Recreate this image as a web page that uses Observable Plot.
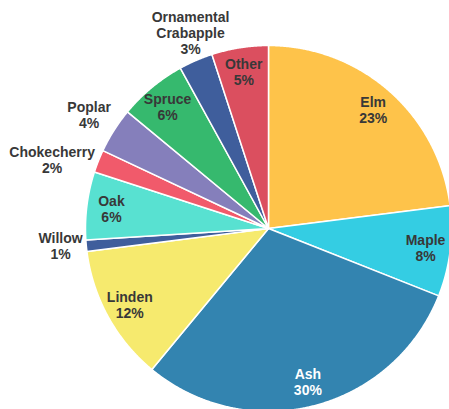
<!DOCTYPE html>
<html><head><meta charset="utf-8">
<script src="https://cdn.jsdelivr.net/npm/d3@7"></script>
<script src="https://cdn.jsdelivr.net/npm/@observablehq/plot@0.6"></script>
<style>html,body{margin:0;padding:0;background:#fff}</style>
</head><body><div id="chart"></div>
<script>
// ---- data ----
const names = ["Elm","Maple","Ash","Linden","Willow","Oak","Chokecherry","Poplar","Spruce","Ornamental Crabapple","Other"];
const shares = [23, 8, 30, 12, 1, 6, 2, 4, 6, 3, 5];
const colors = ["#FEC34A","#34CDE3","#3384B0","#F6EA6E","#3F5E9C","#58E1D1","#F15A6B","#857FBB","#36B96E","#3F5E9C","#DB4F5F"];

// ---- layout ----
const W = 449, H = 409, cx = 268, cy = 228, R = 183;
const font = "bold 14px 'Liberation Sans', Arial, sans-serif";

const arcs = d3.pie().sort(null).value(d => d)(shares);
const polys = [];
arcs.forEach((a, i) => {
  polys.push({name: names[i], x: 0, y: 0});
  const n = Math.max(2, Math.ceil((a.endAngle - a.startAngle) / 0.005));
  for (let k = 0; k <= n; k++) {
    const t = a.startAngle + (a.endAngle - a.startAngle) * k / n;
    polys.push({name: names[i], x: Math.sin(t), y: Math.cos(t)});
  }
});

const smooth = (e0, e1, v) => { const t = Math.max(0, Math.min(1, (v - e0) / (e1 - e0))); return t * t * (3 - 2 * t); };
const ctx = document.createElement("canvas").getContext("2d");
ctx.font = font;
const lineH = 16;
const labels = arcs.map((a, i) => {
  const mid = (a.startAngle + a.endAngle) / 2;
  const s = Math.sin(mid), c = Math.cos(mid);
  const text = names[i].replace(/ /g, "\n") + "\n" + shares[i] + "%";
  const lines = text.split("\n");
  const inside = shares[i] >= 5;
  let x, y;
  if (inside) {
    x = 0.865 * s; y = 0.865 * c;
  } else {
    const w = d3.max(lines, l => ctx.measureText(l).width);
    const h = lines.length * lineH;
    const ax = 1.02 * R * s, ay = 1.02 * R * c;
    x = (ax + Math.sign(s) * smooth(0.3, 0.8, Math.abs(s)) * w / 2) / R;
    y = (ay + Math.sign(c) * smooth(0.35, 0.6, Math.abs(c)) * h / 2) / R;
  }
  return {name: names[i], text, x, y, light: names[i] === "Ash"};
});

const chart = Plot.plot({
  width: W, height: H,
  margin: 0,
  x: {domain: [-cx / R, (W - cx) / R], axis: null},
  y: {domain: [-(H - cy) / R, cy / R], axis: null},
  color: {domain: names, range: colors},
  style: {background: "#fff"},
  marks: [
    Plot.line(polys, {x: "x", y: "y", z: "name", fill: "name", stroke: "#fff", strokeWidth: 1.5, strokeLinejoin: "round", curve: "linear-closed"}),
    Plot.text(labels, {x: "x", y: "y", text: "text", fill: d => d.light ? "#fff" : "#383838",
      fontSize: 14, fontWeight: "bold", fontFamily: "'Liberation Sans', Arial, sans-serif",
      lineHeight: lineH / 14, textAnchor: "middle"})
  ]
});
document.getElementById("chart").append(chart);
</script>
</body></html>
